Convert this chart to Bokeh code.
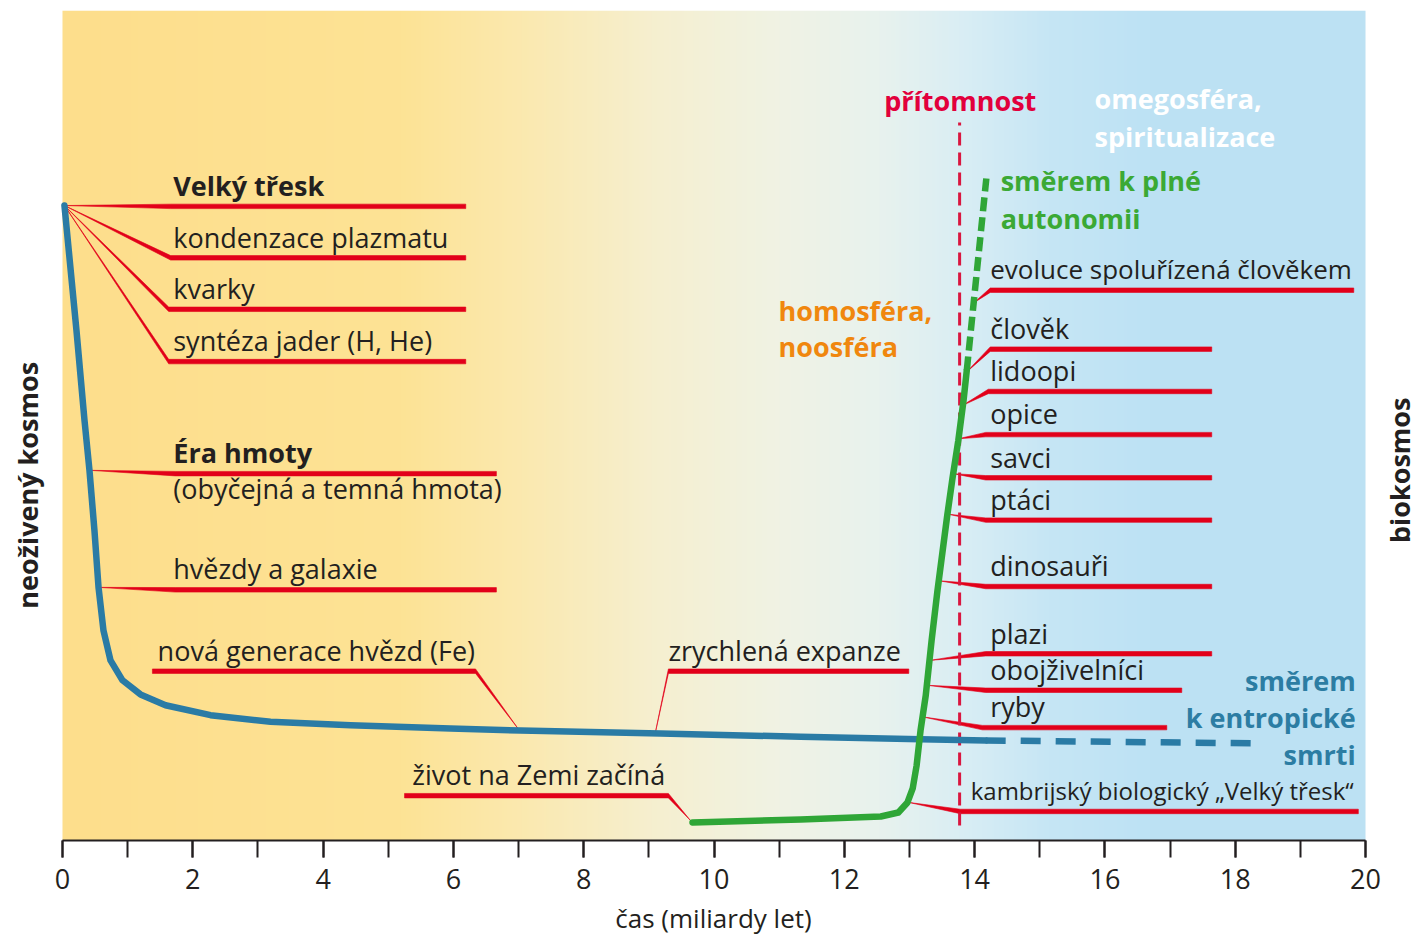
import numpy as np
from bokeh.plotting import figure
from bokeh.models import Range1d, SingleIntervalTicker, ColumnDataSource
from bokeh.core.properties import value
from bokeh.embed import file_html
from bokeh.resources import INLINE

FONT = "Open Sans"

# ---------------- data ----------------
# inanimate cosmos (blue), time in billions of years vs. schematic level (0-100)
cosmos_t = [0.03, 0.215, 0.338, 0.414, 0.491, 0.553, 0.629, 0.737, 0.921, 1.197, 1.581,
            2.272, 3.193, 4.421, 5.955, 7.03, 9.18, 11.33, 13.17, 14.17]
cosmos_v = [76.5, 61.4, 50.6, 44.6, 37.3, 30.5, 25.3, 21.7, 19.3, 17.6, 16.3,
            15.1, 14.3, 13.9, 13.5, 13.25, 12.9, 12.5, 12.2, 12.05]
cosmos_future_t = [14.17, 18.42]
cosmos_future_v = [12.05, 11.7]

# biocosmos (green)
bio_t = [9.67, 11.33, 12.56, 12.83, 12.97, 13.05, 13.11, 13.17, 13.25, 13.34, 13.43,
         13.51, 13.58, 13.66, 13.75, 13.83, 13.88]
bio_v = [2.17, 2.53, 2.89, 3.37, 4.58, 6.27, 9.04, 13.25, 17.47, 24.10, 30.12,
         34.94, 39.16, 43.61, 48.19, 53.01, 56.63]
bio_future_t = [13.88, 14.18]
bio_future_v = [56.63, 79.76]

present_t = 13.77
present_v = [1.8, 86.5]

# event leaders: origin on curve, elbow, horizontal level, far end
ev_origin_t = [0.03, 0.03, 0.03, 0.03, 0.42, 0.55, 7.0, 9.10, 9.64,
               13.99, 13.87, 13.81, 13.75, 13.67, 13.60, 13.45, 13.31, 13.27, 13.20, 12.98]
ev_origin_v = [76.5, 76.5, 76.5, 76.5, 44.6, 30.5, 13.4, 13.0, 2.4,
               64.8, 56.4, 52.4, 48.4, 44.2, 39.3, 31.3, 21.7, 18.7, 14.9, 4.6]
ev_elbow_t = [1.66, 1.66, 1.63, 1.63, 1.73, 1.73, 6.34, 9.30, 9.30,
              14.24, 14.24, 14.21, 14.17, 14.17, 14.17, 14.17, 14.17, 14.17, 14.12, 13.78]
ev_level = [76.4, 70.2, 64.0, 57.7, 44.2, 30.2, 20.4, 20.4, 5.4,
            66.3, 59.2, 54.1, 48.9, 43.7, 38.6, 30.6, 22.5, 18.1, 13.6, 3.5]
ev_far_t = [6.19, 6.19, 6.19, 6.19, 6.66, 6.66, 1.38, 12.99, 5.25,
            19.82, 17.64, 17.64, 17.64, 17.64, 17.64, 17.64, 17.64, 17.18, 16.95, 19.89]

ev_text = ["Velký třesk", "kondenzace plazmatu", "kvarky", "syntéza jader (H, He)",
           "Éra hmoty", "(obyčejná a temná hmota)", "hvězdy a galaxie",
           "nová generace hvězd (Fe)", "zrychlená expanze", "život na Zemi začíná",
           "evoluce spoluřízená člověkem", "člověk", "lidoopi", "opice", "savci", "ptáci",
           "dinosauři", "plazi", "obojživelníci", "ryby",
           "kambrijský biologický „Velký třesk“"]
ev_text_t = [1.70, 1.70, 1.70, 1.70, 1.70, 1.70, 1.70, 1.46, 9.30, 5.37,
             14.24, 14.24, 14.24, 14.24, 14.24, 14.24, 14.24, 14.24, 14.24, 14.24, 13.94]
ev_text_v = [78.9, 72.7, 66.5, 60.2, 46.7, 42.4, 32.8, 22.9, 22.9, 7.9,
             68.8, 61.7, 56.6, 51.4, 46.2, 41.1, 33.1, 25.0, 20.6, 16.1, 6.0]
ev_text_bold = [True, False, False, False, True, False, False, False, False, False,
                False, False, False, False, False, False, False, False, False, False, False]
ev_text_size = ["27px"] * 10 + ["26px"] + ["27px"] * 9 + ["24px"]

# coloured captions
cap_text = ["přítomnost", "omegosféra,", "spiritualizace", "směrem k plné", "autonomii",
            "homosféra,", "noosféra", "směrem", "k entropické", "smrti"]
cap_t = [13.78, 15.84, 15.84, 14.40, 14.40, 10.99, 10.99, 19.85, 19.85, 19.85]
cap_v = [89.2, 89.4, 84.8, 79.5, 74.9, 63.85, 59.5, 19.3, 14.8, 10.4]
cap_color = ["#E2003C", "#FFFFFF", "#FFFFFF", "#3BA935", "#3BA935",
             "#F0870E", "#F0870E", "#2C7DA3", "#2C7DA3", "#2C7DA3"]
cap_align = ["center", "left", "left", "left", "left", "left", "left", "right", "right", "right"]

# side captions
side_text = ["neoživený kosmos", "biokosmos"]
side_t = [-0.54, 20.52]
side_v = [42.8, 44.6]

# background gradient stops (time -> colour)
bg_t = [0.0, 5.19, 7.03, 9.03, 11.0, 12.56, 13.78, 15.16, 16.7, 20.0]
bg_col = ["#FDDE8C", "#FDE395", "#FBE9AF", "#F6EFCF", "#F0F3E4", "#E8F2EE",
          "#DAEEF4", "#C6E6F5", "#BDE2F4", "#BCE1F3"]

# ---------------- figure ----------------
PX_PER_T = 65.15
FRAME_L, FRAME_R = 8, 1418
x_lo = -(62 - FRAME_L) / PX_PER_T
x_hi = 20 + (FRAME_R - 1365) / PX_PER_T
p = figure(frame_width=FRAME_R - FRAME_L, frame_height=830, output_backend="svg",
           toolbar_location=None,
           x_range=Range1d(x_lo, x_hi), y_range=Range1d(0, 100),
           min_border_left=FRAME_L, min_border_right=0, min_border_top=10, min_border_bottom=40)
p.outline_line_color = None
p.grid.visible = False
p.yaxis.visible = False
p.background_fill_color = "white"
p.border_fill_color = "white"

# gradient background
N = 520
xs = np.linspace(0, 20, N)
def hex2rgb(h):
    return [int(h[i:i + 2], 16) for i in (1, 3, 5)]
rgb = np.array([hex2rgb(c) for c in bg_col], dtype=float)
img = np.empty((2, N), dtype=np.uint32)
view = img.view(dtype=np.uint8).reshape((2, N, 4))
for k in range(3):
    view[:, :, k] = np.interp(xs, bg_t, rgb[:, k]).astype(np.uint8)
view[:, :, 3] = 255
p.image_rgba(image=[img], x=0, y=0, dw=20, dh=100)

# leaders as tapered wedges
RED = "#E2001A"
h = 0.27
pxs, pys = [], []
for ot, ov, et, lv, ft in zip(ev_origin_t, ev_origin_v, ev_elbow_t, ev_level, ev_far_t):
    pxs.append([ft, et, ot, et, ft])
    pys.append([lv + h, lv + h, ov, lv - h, lv - h])
p.patches(pxs, pys, fill_color=RED, line_color=RED, line_width=0.6)

# present line
p.line([present_t, present_t], present_v, line_color="#D9163F", line_width=3, line_dash="13 7")

# curves
BLUE = "#2A7BA5"
GREEN = "#2FA637"
p.line(cosmos_t, cosmos_v, line_color=BLUE, line_width=6.5, line_join="round", line_cap="round")
p.line(cosmos_future_t, cosmos_future_v, line_color=BLUE, line_width=6.5, line_dash="20 15")
p.line(bio_t, bio_v, line_color=GREEN, line_width=6.5, line_join="round", line_cap="round")
p.line(bio_future_t, bio_future_v, line_color=GREEN, line_width=6.5, line_dash="14 6")

# event texts
def pick(seq, bold):
    return [s for s, b in zip(seq, ev_text_bold) if b == bold]

for bold in (False, True):
    src = ColumnDataSource(dict(x=pick(ev_text_t, bold), y=pick(ev_text_v, bold),
                                text=pick(ev_text, bold), size=pick(ev_text_size, bold)))
    p.text(x="x", y="y", text="text", source=src, text_font=value(FONT), text_font_size="size",
           text_font_style="bold" if bold else "normal", text_color="#231F20",
           text_baseline="alphabetic", text_align="left")

src_c = ColumnDataSource(dict(x=cap_t, y=cap_v, text=cap_text, color=cap_color, align=cap_align))
p.text(x="x", y="y", text="text", source=src_c, text_font=value(FONT), text_font_size="27px",
       text_font_style="bold", text_color="color", text_align="align", text_baseline="alphabetic")

# side labels (vertical)
src_s = ColumnDataSource(dict(x=side_t, y=side_v, text=side_text))
p.text(x="x", y="y", text="text", source=src_s, angle=np.pi / 2, text_font=value(FONT),
       text_font_size="27px", text_font_style="bold", text_color="#231F20",
       text_align="center", text_baseline="middle")

# x axis
ax = p.xaxis[0]
ax.bounds = (0, 20)
ax.ticker = SingleIntervalTicker(interval=2, num_minor_ticks=2)
ax.axis_line_width = 2
ax.axis_line_color = "#231F20"
ax.major_tick_line_width = 2
ax.minor_tick_line_width = 2
ax.major_tick_line_color = "#231F20"
ax.minor_tick_line_color = "#231F20"
ax.major_tick_out = 17
ax.minor_tick_out = 17
ax.major_tick_in = 0
ax.minor_tick_in = 0
ax.major_label_text_font = FONT
ax.major_label_text_font_size = "27px"
ax.major_label_text_color = "#231F20"
ax.major_label_standoff = 11
ax.axis_label = "čas (miliardy let)"
ax.axis_label_text_font = FONT
ax.axis_label_text_font_size = "26px"
ax.axis_label_text_font_style = "normal"
ax.axis_label_text_color = "#231F20"
ax.axis_label_standoff = 8

open("out.html", "w").write(file_html(p, INLINE))
